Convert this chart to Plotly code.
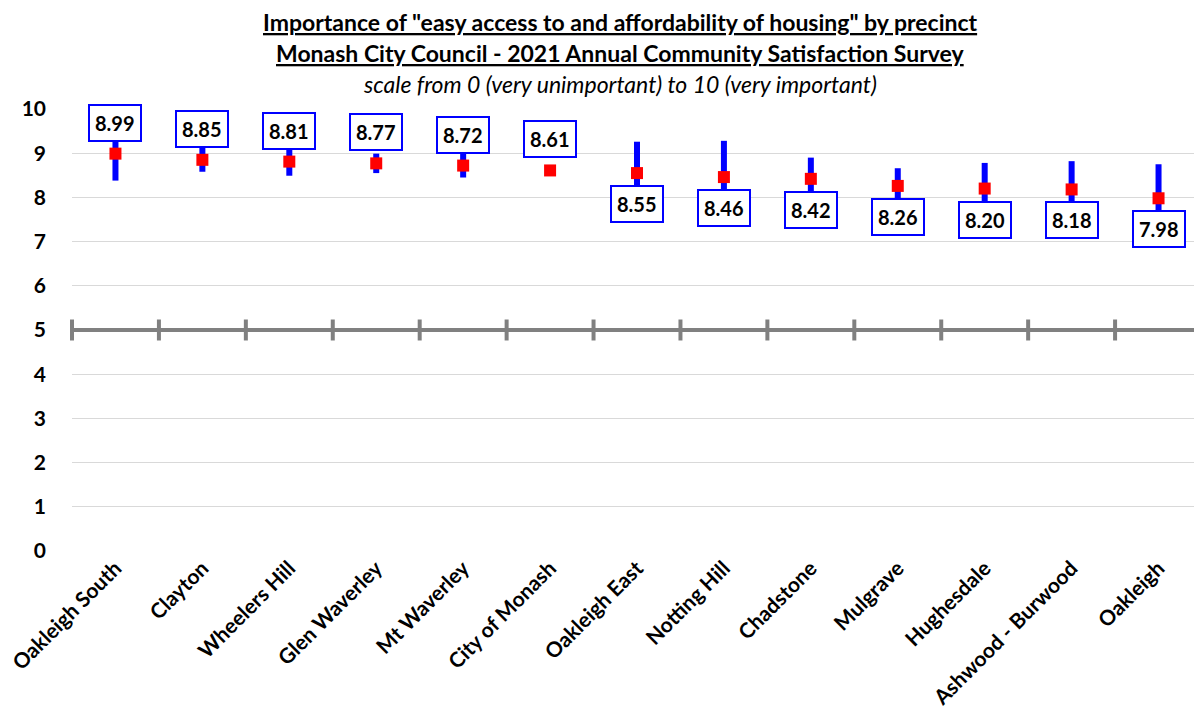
import plotly.graph_objects as go

precincts = ["Oakleigh South", "Clayton", "Wheelers Hill", "Glen Waverley", "Mt Waverley",
             "City of Monash", "Oakleigh East", "Notting Hill", "Chadstone", "Mulgrave",
             "Hughesdale", "Ashwood - Burwood", "Oakleigh"]
means = [8.99, 8.85, 8.81, 8.77, 8.72, 8.61, 8.55, 8.46, 8.42, 8.26, 8.20, 8.18, 7.98]
upper = [9.60, 9.12, 9.13, 8.99, 8.99, 8.61, 9.26, 9.28, 8.90, 8.66, 8.78, 8.82, 8.75]
lower = [8.38, 8.58, 8.49, 8.55, 8.45, 8.61, 7.84, 7.64, 7.94, 7.86, 7.62, 7.54, 7.21]
y_ticks = [0, 1, 2, 3, 4, 5, 6, 7, 8, 9, 10]
midpoint = 5
overall = "City of Monash"

FONT = "Lato"
n = len(precincts)
err_plus = [u - m for u, m in zip(upper, means)]
err_minus = [m - l for m, l in zip(means, lower)]
overall_val = means[precincts.index(overall)]

fig = go.Figure()

# midpoint reference line with tick marks at category boundaries
bounds = [i - 0.5 for i in range(n + 1)]
fig.add_trace(go.Scatter(x=[bounds[0], bounds[-1]], y=[midpoint, midpoint], mode="lines",
                         line=dict(color="#808080", width=4), hoverinfo="skip",
                         showlegend=False, xaxis="x2", cliponaxis=False))
fig.add_trace(go.Scatter(x=bounds, y=[midpoint] * len(bounds), mode="markers",
                         marker=dict(symbol="line-ns", size=15,
                                     line=dict(color="#808080", width=4)),
                         hoverinfo="skip", showlegend=False, xaxis="x2", cliponaxis=False))

fig.add_trace(go.Scatter(
    x=precincts, y=means, mode="markers",
    marker=dict(symbol="square", size=12, color="#ff0000"),
    error_y=dict(type="data", symmetric=False, array=err_plus, arrayminus=err_minus,
                 color="#0000ff", thickness=6, width=0),
    showlegend=False, cliponaxis=False))

for p, m in zip(precincts, means):
    above = m >= overall_val
    fig.add_annotation(x=p, y=m, text="<b>%.2f</b>" % m, showarrow=False,
                       yshift=31 if above else -31,
                       font=dict(family=FONT, size=20, color="black", weight="bold"),
                       bgcolor="white", bordercolor="#0000ff", borderwidth=2, borderpad=5)

title_lines = [
    ("<b><u>Importance of \"easy access to and affordability of housing\" by precinct</u></b>", 22),
    ("<b><u>Monash City Council - 2021 Annual Community Satisfaction Survey</u></b>", 53),
    ("<i>scale from 0 (very unimportant) to 10 (very important)</i>", 84),
]
for t, ypix in title_lines:
    fig.add_annotation(text=t, xref="paper", yref="paper", x=(620 - 72) / 1130,
                       y=1 + (109 - ypix) / 442,
                       showarrow=False, xanchor="center", yanchor="middle",
                       font=dict(family=FONT, size=23, color="black"))

fig.update_layout(
    width=1194, height=714,
    margin=dict(l=64, r=0, t=101, b=171),
    plot_bgcolor="white", paper_bgcolor="white",
    font=dict(family=FONT, color="black"),
    xaxis=dict(type="category", range=[-0.5, n - 0.5], tickangle=-45,
               tickfont=dict(family=FONT, size=21, color="black", weight="bold"),
               showgrid=False, showline=False, ticks="", zeroline=False,
               categoryorder="array", categoryarray=precincts),
    xaxis2=dict(range=[-0.5, n - 0.5], overlaying="x", visible=False),
    yaxis=dict(range=[0, 10], tickvals=y_ticks,
               tickfont=dict(family=FONT, size=21, color="black", weight="bold"),
               showgrid=True, gridcolor="#d9d9d9", gridwidth=1,
               zeroline=False, showline=False, ticks="", ticklabelstandoff=25),
)

fig.write_html("out.html")
